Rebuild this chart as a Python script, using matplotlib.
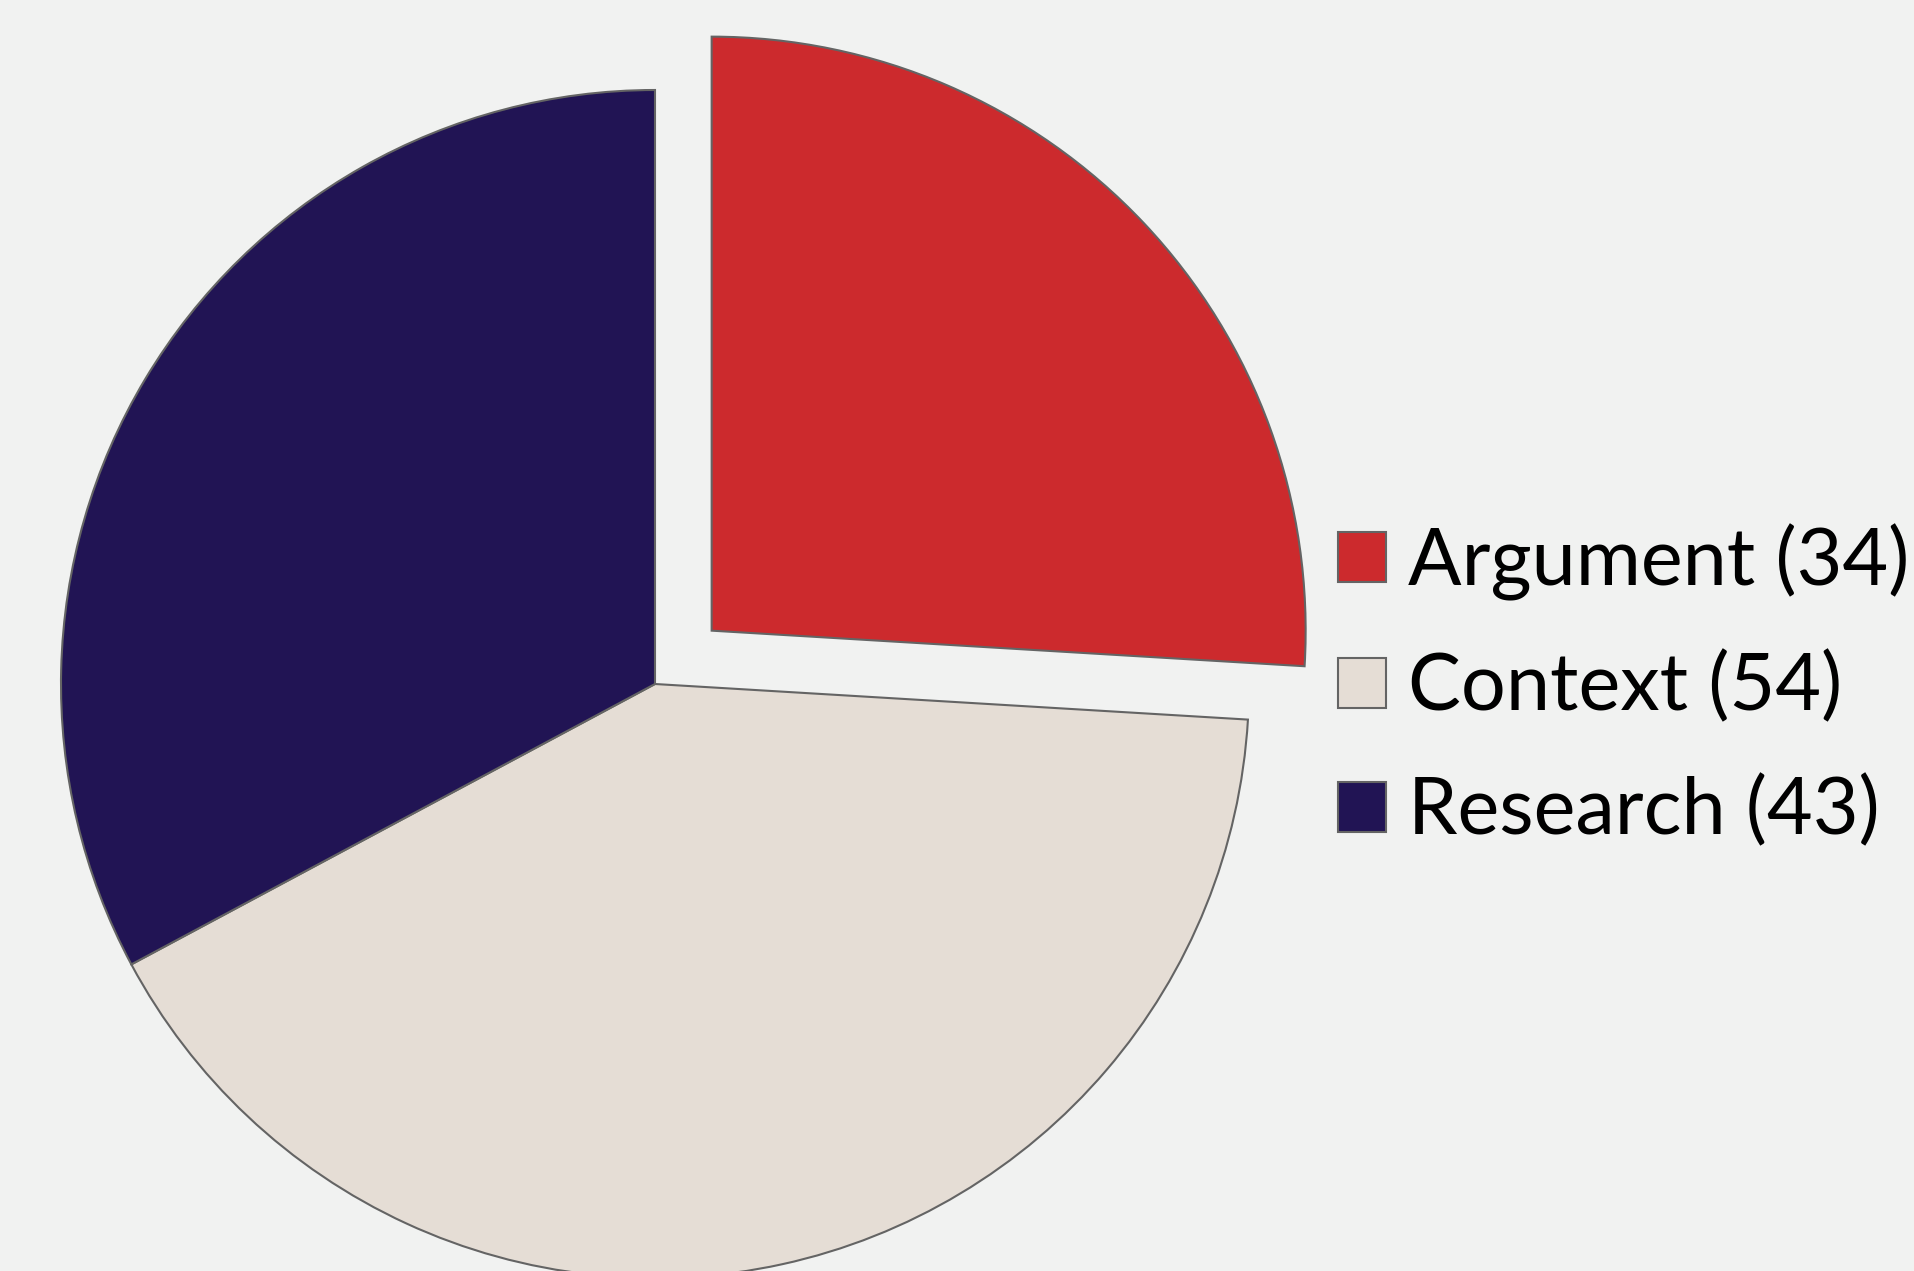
import matplotlib
matplotlib.use('Agg')
import matplotlib.pyplot as plt

# Данные
labels = ['Argument', 'Context', 'Research']
counts = [34, 54, 43]
colors = ['#CC2A2D', '#E5DDD5', '#211454']
explode = [0.131, 0, 0]

legend_labels = [f'{name} ({n})' for name, n in zip(labels, counts)]

W, H = 1914, 1271
cx, cy, r = 655, 684, 594  # центр и радиус круга в пикселях

fig = plt.figure(figsize=(W / 100, H / 100), dpi=100)
fig.patch.set_facecolor('#F1F2F1')
ax = fig.add_axes([0, 0, 1, 1])
ax.set_facecolor('#F1F2F1')

wedges, _ = ax.pie(counts, colors=colors, explode=explode,
                   startangle=90, counterclock=False,
                   wedgeprops=dict(edgecolor='#646464', linewidth=1.5))

ax.set_xlim(-cx / r, (W - cx) / r)
ax.set_ylim(-(H - cy) / r, cy / r)
ax.set_aspect('auto')
ax.axis('off')

fig.legend(wedges, legend_labels, loc='center left',
           bbox_to_anchor=(1338 / W, 1 - 686 / H),
           frameon=False, borderpad=0, borderaxespad=0,
           prop={'family': 'Lato', 'size': 57},
           handlelength=0.6, handleheight=0.6,
           handletextpad=0.28, labelspacing=0.64)

fig.savefig('out.png', dpi=100, facecolor=fig.get_facecolor())
